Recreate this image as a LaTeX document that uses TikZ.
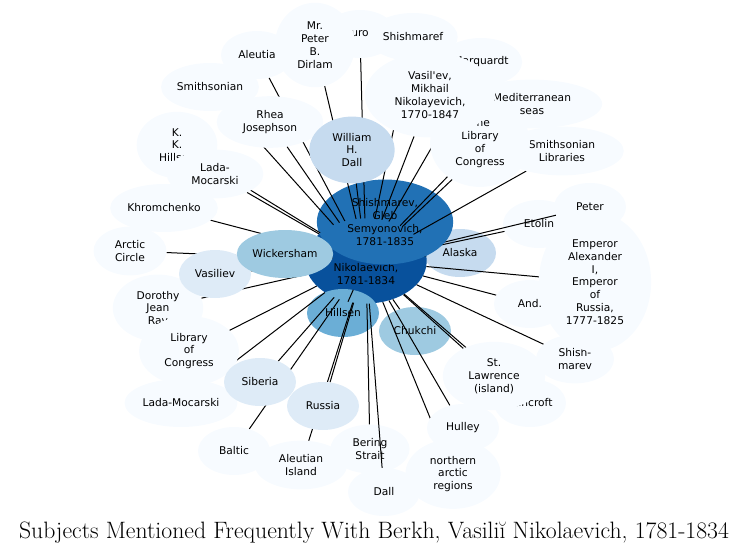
\documentclass[tikz,border=0pt]{standalone}
\usepackage{fontspec}
\newfontfamily\subjfont{DejaVu Sans}
\usetikzlibrary{shapes.geometric}
\pgfdeclarelayer{under}
\pgfdeclarelayer{linksa}
\pgfdeclarelayer{mid}
\pgfdeclarelayer{links}
\pgfsetlayers{under,linksa,mid,links,main}

\begin{document}
\begin{tikzpicture}[x=1pt, y=-1pt,
    subj/.style={ellipse, fill=bleda, inner xsep=1.5pt, inner ysep=2pt,
        minimum width=72pt, minimum height=48pt, align=center,
        font=\subjfont\fontsize{10.67pt}{12.8pt}\selectfont},
    subjm/.style={subj, inner xsep=10.6pt, inner ysep=6.7pt},
    link/.style={line width=1pt}]
\definecolor{bleda}{HTML}{F7FBFF}
\definecolor{modra1}{HTML}{DEEBF7}
\definecolor{modra2}{HTML}{C6DBEF}
\definecolor{modra3}{HTML}{9ECAE1}
\definecolor{modra4}{HTML}{6BAED6}
\definecolor{modra5}{HTML}{2171B5}
\definecolor{modra6}{HTML}{08519C}

\useasboundingbox (0,0) rectangle (748,554);

\node[subj] (aleutia) at (257,55) {Aleutia};
\node[subj] (uro) at (360,34) {uro};
\node[subjm] (dirlam) at (315,45) {Mr.\\Peter\\B.\\Dirlam};
\node[subj] (shishmaref) at (413,37) {Shishmaref};
\node[subj] (marquardt) at (481,62) {Marquardt};
\node[subjm] (medit) at (532,104) {Mediterranean\\seas};
\node[subjm] (smithlib) at (562,151) {Smithsonian\\Libraries};
\node[subjm] (loc) at (480,143) {The\\Library\\of\\Congress};
\node[subjm] (vasilev) at (430,95)
    {Vasil\textquotesingle ev,\\Mikhail\\Nikolayevich,\\1770-1847};
\node[subj] (smithsonian) at (210,87) {Smithsonian};
\node[subjm] (rhea) at (270,122) {Rhea\\Josephson};
\node[subjm] (kkhillsen) at (177,145) {K.\\K.\\Hillsen};
\node[subjm] (lada) at (215,174) {Lada-\\Mocarski};
\node[subj] (khrom) at (164,208) {Khromchenko};
\node[subjm] (arctic) at (130,251) {Arctic\\Circle};
\node[subjm] (dorothy) at (158,308) {Dorothy\\Jean\\Rav};
\node[subjm] (libcong) at (189,351) {Library\\of\\Congress};
\node[subj] (ladab) at (181,403) {Lada-Mocarski};
\node[subj] (baltic) at (234,451) {Baltic};
\node[subjm] (aleutisl) at (301,465) {Aleutian\\Island};
\node[subj] (dallb) at (384,492) {Dall};
\node[subjm] (northern) at (453,474) {northern\\arctic\\regions};
\node[subj] (hulley) at (463,428) {Hulley};
\node[subj] (bancroft) at (530,403) {Bancroft};
\node[subjm] (stlaw) at (494,376) {St.\\Lawrence\\(island)};
\node[subjm] (shishm) at (575,359) {Shish-\\marev};
\node[subjm] (emperor) at (595,282)
    {Emperor\\Alexander\\I,\\Emperor\\of\\Russia,\\1777-1825};
\node[subj] (andn) at (530,304) {And.};
\node[subj] (peter) at (590,207) {Peter};

\node[subjm, fill=modra2] (dall) at (352,150) {William\\H.\\Dall};
\node[subj, fill=modra1] (vasiliev) at (215,274) {Vasiliev};
\node[subj, fill=modra3] (wick) at (285,254) {Wickersham};
\node[subj, fill=modra1] (siberia) at (260,382) {Siberia};
\node[subj, fill=modra1] (russia) at (323,406) {Russia};

\begin{pgfonlayer}{under}
\node[subj] (etolin) at (539,224) {Etolin};
\node[subjm] (bering) at (370,449) {Bering\\Strait};
\node[subj, fill=modra2] (alaska) at (460,253) {Alaska};
\node[subjm, fill=modra6] (berkh) at (366,261)
    {Berkh,\\Vasiliĭ\\Nikolaevich,\\1781-1834};
\node[subj, fill=modra4] (hillsen) at (343,313) {Hillsen};
\node[subj, fill=modra3] (chukchi) at (415,331) {Chukchi};
\end{pgfonlayer}

\begin{pgfonlayer}{mid}
\node[subjm, fill=modra5] (shish) at (385,222)
    {Shishmarev,\\Gleb\\Semyonovich,\\1781-1835};
\end{pgfonlayer}

\begin{pgfonlayer}{linksa}
\foreach \n in {peter, etolin, alaska}
    \draw[link] (berkh) -- (\n);
\end{pgfonlayer}

\begin{pgfonlayer}{links}
\foreach \n in {smithsonian, aleutia, dirlam, uro, shishmaref, vasilev,
        marquardt, loc, medit, smithlib, rhea, kkhillsen, lada, khrom,
        arctic, vasiliev, dorothy, libcong, ladab, siberia, baltic, russia,
        aleutisl, hillsen, bering, dallb, chukchi, northern, hulley, stlaw,
        bancroft, shishm, andn, emperor, dall, wick}
    \draw[link] (berkh) -- (\n);
\end{pgfonlayer}

\node[anchor=base, font=\fontsize{23.7pt}{28pt}\selectfont] (title) at (374,538)
    {Subjects Mentioned Frequently With Berkh, Vasiliĭ Nikolaevich, 1781-1834};

\end{tikzpicture}
\end{document}
